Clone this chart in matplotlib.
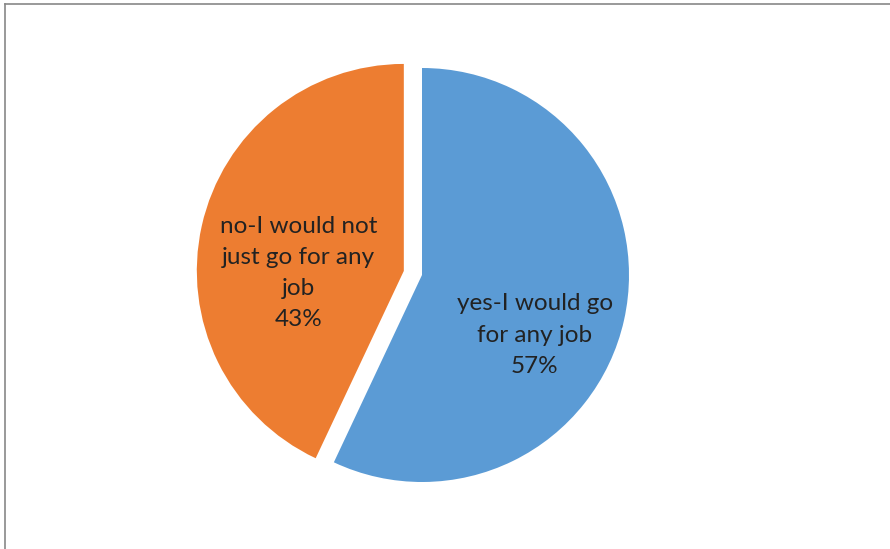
import matplotlib.pyplot as plt
import numpy as np

labels = ["yes-I would go\nfor any job", "no-I would not\njust go for any\njob"]
shares = [57, 43]
colors = ["#5B9BD5", "#ED7D31"]
explode = [0, 0.09]

W, H = 890, 549
cx, cy, r = 422, 275, 207   # pie centre and radius in pixels

fig = plt.figure(figsize=(W / 100, H / 100), dpi=100)
ax = fig.add_axes([0, 0, 1, 1])

wedges, _ = ax.pie(shares, colors=colors, explode=explode, startangle=90,
                   counterclock=False, radius=1,
                   wedgeprops=dict(linewidth=0))
ax.set_xlim(-cx / r, (W - cx) / r)
ax.set_ylim(-(H - cy) / r, cy / r)
ax.set_aspect("equal")
ax.axis("off")

# labels sit inside each wedge
label_pos = [(0.545, -0.29), (-0.51, -0.01)]
for w, lab, val, (dx, dy) in zip(wedges, labels, shares, label_pos):
    ox, oy = w.center
    ax.text(ox + dx, oy + dy, f"{lab}\n{val}%", ha="center", va="center",
            fontsize=17.5, family="Lato", color="#222222", linespacing=1.6)

# chart frame: top and left edges only
fig.add_artist(plt.Line2D([4.5 / W, 1], [1 - 3.5 / H, 1 - 3.5 / H],
                          color="#888888", lw=1.2, transform=fig.transFigure))
fig.add_artist(plt.Line2D([4.5 / W, 4.5 / W], [0, 1 - 3.5 / H],
                          color="#888888", lw=1.2, transform=fig.transFigure))

fig.savefig("out.png", dpi=100)
